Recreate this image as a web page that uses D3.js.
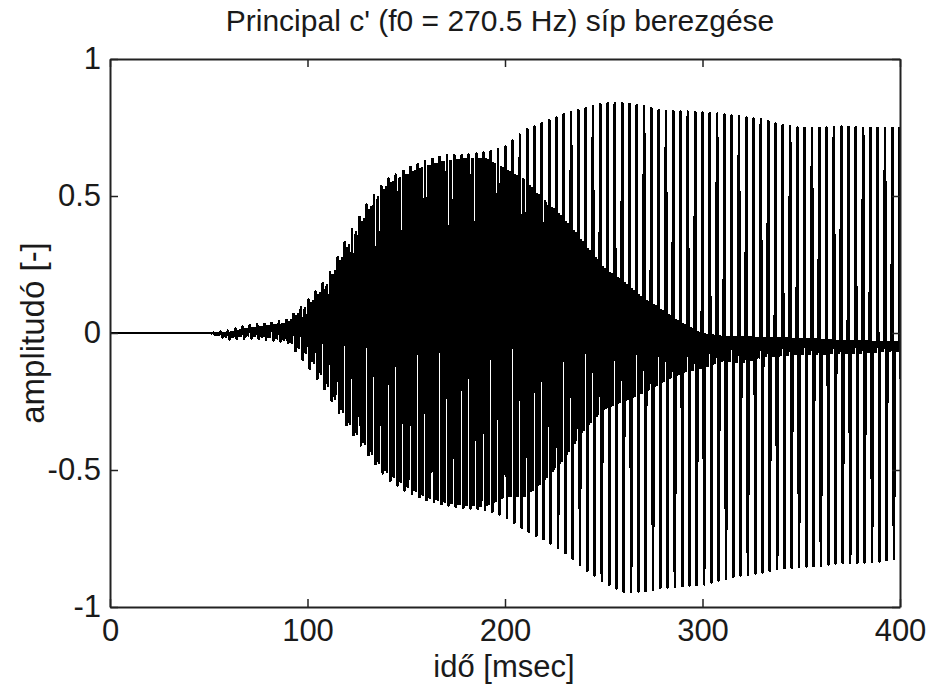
<!DOCTYPE html>
<html>
<head>
<meta charset="utf-8">
<script src="https://cdn.jsdelivr.net/npm/d3@7"></script>
<style>
  body { margin: 0; background: #fff; }
  text { font-family: "Liberation Sans", Arial, Helvetica, sans-serif; fill: #1a1a1a; }
</style>
</head>
<body>
<svg id="chart" width="931" height="684"></svg>
<script>
// Envelope of the pipe signal, every 10 ms
const timeMs = [0, 10, 20, 30, 40, 50, 60, 70, 80, 90,
                100, 110, 120, 130, 140, 150, 160, 170, 180, 190,
                200, 210, 220, 230, 240, 250, 260, 270, 280, 290,
                300, 310, 320, 330, 340, 350, 360, 370, 380, 390, 400];
// highest spike of each period
const upperPeak = [0, 0, 0, 0, 0, 0, 0.01, 0.03, 0.035, 0.05,
                   0.12, 0.20, 0.35, 0.47, 0.56, 0.60, 0.63, 0.65, 0.65, 0.66,
                   0.68, 0.74, 0.77, 0.80, 0.82, 0.84, 0.84, 0.83, 0.81, 0.81,
                   0.805, 0.80, 0.79, 0.78, 0.76, 0.75, 0.75, 0.755, 0.75, 0.75, 0.75];
// upper edge of the dense (filled) part
const bandTop = [0, 0, 0, 0, 0, 0, 0.005, 0.02, 0.03, 0.04,
                 0.10, 0.18, 0.31, 0.44, 0.54, 0.58, 0.61, 0.63, 0.64, 0.64,
                 0.60, 0.56, 0.485, 0.42, 0.33, 0.24, 0.19, 0.13, 0.085, 0.036,
                 0.0, -0.01, -0.01, -0.015, -0.015, -0.02, -0.02, -0.025, -0.025, -0.03, -0.03];
// lower edge of the dense (filled) part
const bandBottom = [0, 0, 0, 0, 0, 0, -0.02, -0.012, -0.018, -0.03,
                    -0.08, -0.19, -0.32, -0.42, -0.51, -0.56, -0.60, -0.62, -0.63, -0.635,
                    -0.60, -0.60, -0.54, -0.46, -0.355, -0.28, -0.25, -0.22, -0.18, -0.146,
                    -0.13, -0.105, -0.11, -0.09, -0.085, -0.08, -0.08, -0.075, -0.075, -0.07, -0.07];
// deepest spike of each period
const lowerPeak = [0, 0, 0, 0, 0, 0, -0.025, -0.02, -0.025, -0.035,
                   -0.12, -0.22, -0.34, -0.44, -0.53, -0.58, -0.61, -0.63, -0.64, -0.645,
                   -0.67, -0.72, -0.755, -0.80, -0.86, -0.91, -0.945, -0.945, -0.93, -0.925,
                   -0.92, -0.90, -0.885, -0.875, -0.86, -0.855, -0.85, -0.84, -0.84, -0.835, -0.82];

const xTicks = [0, 100, 200, 300, 400];
const yTicks = [-1, -0.5, 0, 0.5, 1];
const f0 = 270.5; // Hz, from the title

/** Draws the pipe onset waveform in a MATLAB style box. */
class WaveformChart {
    /**
     * @param svg the d3 selection of the svg element
     */
    constructor(svg) {
        this.svg = svg;
        this.x = d3.scaleLinear().domain([0, 400]).range([110, 900]);
        this.y = d3.scaleLinear().domain([-1, 1]).range([607, 59]);
    }

    /**
     * Builds one polyline: every period holds the up spike, the down spike,
     * then a few swings inside the dense band.
     */
    buildSignal() {
        let env = vals => d3.scaleLinear().domain(timeMs).range(vals).clamp(true);
        let level = {
            up: env(upperPeak),
            lo: env(lowerPeak),
            top: env(bandTop),
            bot: env(bandBottom)
        };
        level.mid = t => (level.top(t) + level.bot(t)) / 2;

        let period = 1000 / f0;
        let shape = [[0, 'mid'], [0.1, 'up'], [0.2, 'up'], [0.32, 'lo'], [0.42, 'lo'],
                     [0.52, 'top'], [0.64, 'bot'], [0.76, 'top'], [0.88, 'bot']];
        let points = [];
        for (let t0 = 0; t0 < 400 + period; t0 += period) {
            shape.forEach(function ([ph, key]) {
                let t = t0 + ph * period;
                points.push([t, level[key](t)]);
            });
        }
        return points;
    }

    draw() {
        let that = this;
        let svg = this.svg;

        svg.append('defs').append('clipPath').attr('id', 'plotClip')
            .append('rect')
            .attr('x', this.x(0)).attr('y', this.y(1))
            .attr('width', this.x(400) - this.x(0))
            .attr('height', this.y(-1) - this.y(1));

        let line = d3.line().x(d => that.x(d[0])).y(d => that.y(d[1]));
        svg.append('path')
            .datum(this.buildSignal())
            .attr('clip-path', 'url(#plotClip)')
            .attr('d', line)
            .attr('fill', 'none')
            .attr('stroke', '#000')
            .attr('stroke-width', 2)
            .attr('stroke-linejoin', 'miter')
            .attr('stroke-miterlimit', 1)
            .attr('shape-rendering', 'crispEdges');

        // axes, ticks pointing inward on all four sides
        let styleAxis = function (g) {
            g.select('.domain').attr('stroke', '#222').attr('stroke-width', 2);
            g.selectAll('.tick line').attr('stroke', '#222').attr('stroke-width', 1.5);
            g.selectAll('text')
                .attr('font-family', '"Liberation Sans", Arial, sans-serif')
                .attr('font-size', 31)
                .attr('fill', '#1a1a1a');
        };

        svg.append('g')
            .attr('transform', 'translate(0,' + this.y(-1) + ')')
            .call(d3.axisBottom(this.x).tickValues(xTicks).tickSize(-8).tickSizeOuter(0).tickPadding(12))
            .call(styleAxis);
        svg.append('g')
            .attr('transform', 'translate(0,' + this.y(1) + ')')
            .call(d3.axisTop(this.x).tickValues(xTicks).tickSize(-8).tickSizeOuter(0).tickFormat(''))
            .call(styleAxis);
        svg.append('g')
            .attr('transform', 'translate(' + this.x(0) + ',0)')
            .call(d3.axisLeft(this.y).tickValues(yTicks).tickSize(-8).tickSizeOuter(0).tickPadding(9)
                .tickFormat(d => d === 0 ? '0' : String(d)))
            .call(styleAxis);
        svg.append('g')
            .attr('transform', 'translate(' + this.x(400) + ',0)')
            .call(d3.axisRight(this.y).tickValues(yTicks).tickSize(-8).tickSizeOuter(0).tickFormat(''))
            .call(styleAxis);

        svg.selectAll('.tick text').text(function () {
            return d3.select(this).text().replace('\u2212', '-');
        });

        svg.append('text')
            .attr('x', 500).attr('y', 31)
            .attr('text-anchor', 'middle')
            .attr('font-size', 30)
            .text("Principal c' (f0 = 270.5 Hz) síp berezgése");

        svg.append('text')
            .attr('x', 504).attr('y', 677)
            .attr('text-anchor', 'middle')
            .attr('font-size', 31)
            .text('idő [msec]');

        svg.append('text')
            .attr('transform', 'translate(44,333) rotate(-90)')
            .attr('text-anchor', 'middle')
            .attr('font-size', 33)
            .text('amplitudó [-]');
    }
}

let chart = new WaveformChart(d3.select('#chart'));
chart.draw();
</script>
</body>
</html>
